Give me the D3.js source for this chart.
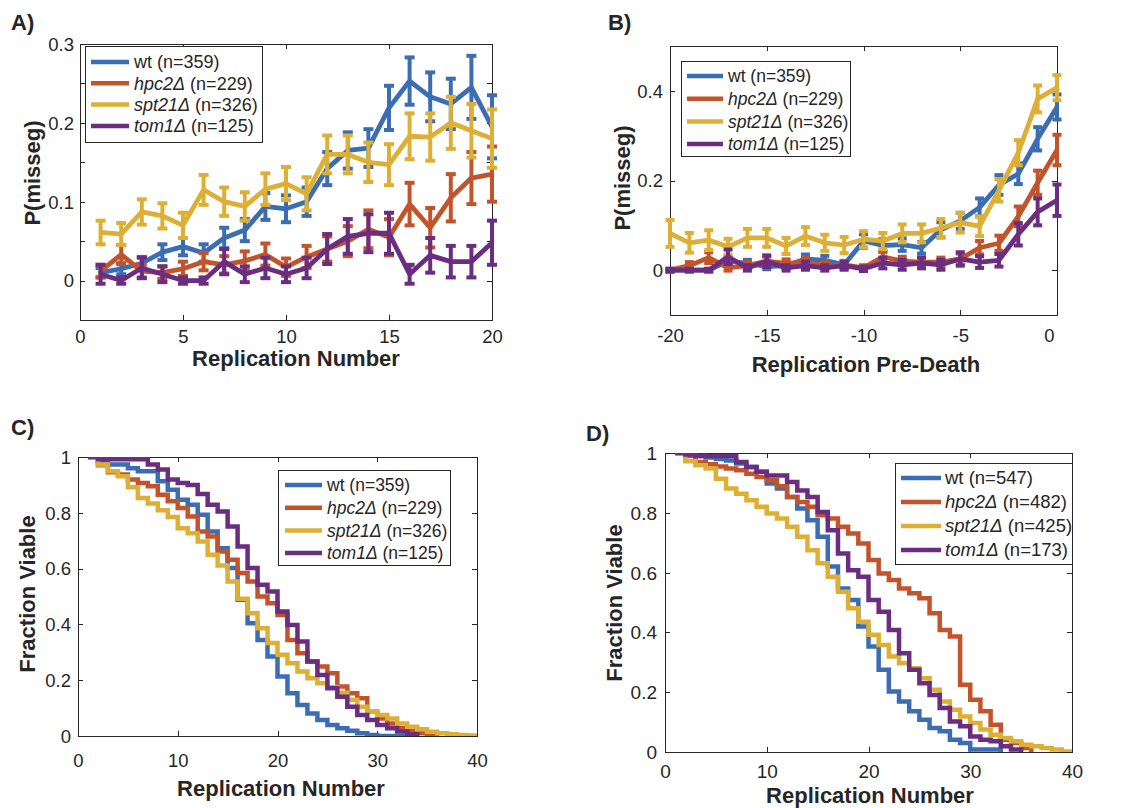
<!DOCTYPE html>
<html>
<head>
<meta charset="utf-8">
<script src="https://cdn.jsdelivr.net/npm/d3@7"></script>
<style>
  body { margin: 0; background: #fff; }
  svg text { font-family: "Liberation Sans", Arial, Helvetica, sans-serif; fill: #262626; }
</style>
</head>
<body>
<svg id="fig" width="1124" height="808"></svg>
<script>
// ---- strains ----
var strainNames = ["wt", "hpc2Δ", "spt21Δ", "tom1Δ"];
var strainItalic = [false, true, true, true];
var strainColors = ["#3b6db3", "#c3532b", "#ddb035", "#6b2d80"];
var nCellsABC = [359, 229, 326, 125];
var nCellsD = [547, 482, 425, 173];

// ---- panel A: P(misseg) by replication number ----
var replicationA = [1, 2, 3, 4, 5, 6, 7, 8, 9, 10, 11, 12, 13, 14, 15, 16, 17, 18, 19, 20];
var missegA_wt    = [0.010, 0.015, 0.022, 0.036, 0.043, 0.035, 0.054, 0.064, 0.094, 0.091, 0.100, 0.142, 0.165, 0.168, 0.219, 0.253, 0.233, 0.224, 0.245, 0.195];
var missegA_hpc2  = [0.012, 0.033, 0.012, 0.010, 0.015, 0.024, 0.020, 0.025, 0.033, 0.017, 0.030, 0.040, 0.050, 0.065, 0.055, 0.097, 0.067, 0.105, 0.130, 0.135];
var missegA_spt21 = [0.061, 0.059, 0.087, 0.082, 0.070, 0.115, 0.100, 0.094, 0.116, 0.123, 0.110, 0.160, 0.160, 0.150, 0.147, 0.183, 0.182, 0.200, 0.190, 0.180];
var missegA_tom1  = [0.008, 0.000, 0.016, 0.008, 0.000, 0.000, 0.024, 0.008, 0.016, 0.008, 0.016, 0.040, 0.056, 0.060, 0.060, 0.008, 0.032, 0.024, 0.024, 0.048];
var errA_wt    = [0.006, 0.007, 0.008, 0.010, 0.011, 0.011, 0.013, 0.014, 0.017, 0.017, 0.018, 0.021, 0.023, 0.024, 0.028, 0.030, 0.031, 0.032, 0.040, 0.040];
var errA_hpc2  = [0.008, 0.012, 0.008, 0.008, 0.009, 0.011, 0.011, 0.012, 0.014, 0.011, 0.014, 0.016, 0.019, 0.024, 0.023, 0.027, 0.025, 0.030, 0.033, 0.035];
var errA_spt21 = [0.015, 0.014, 0.016, 0.016, 0.016, 0.019, 0.018, 0.018, 0.020, 0.021, 0.021, 0.024, 0.024, 0.025, 0.026, 0.029, 0.030, 0.033, 0.034, 0.037];
var errA_tom1  = [0.012, 0.004, 0.013, 0.010, 0.004, 0.004, 0.016, 0.010, 0.013, 0.010, 0.013, 0.019, 0.022, 0.024, 0.026, 0.012, 0.022, 0.020, 0.020, 0.028];

// ---- panel B: P(misseg) by replications before death ----
var preDeathB = [-20, -19, -18, -17, -16, -15, -14, -13, -12, -11, -10, -9, -8, -7, -6, -5, -4, -3, -2, -1, 0];
var missegB_wt    = [0.000, 0.000, 0.000, 0.020, 0.015, 0.008, 0.010, 0.025, 0.022, 0.012, 0.065, 0.055, 0.057, 0.050, 0.090, 0.110, 0.140, 0.190, 0.215, 0.293, 0.364];
var missegB_hpc2  = [0.000, 0.010, 0.028, 0.005, 0.010, 0.020, 0.015, 0.018, 0.010, 0.012, 0.005, 0.030, 0.020, 0.018, 0.018, 0.025, 0.050, 0.060, 0.120, 0.195, 0.268];
var missegB_spt21 = [0.082, 0.061, 0.067, 0.052, 0.072, 0.072, 0.054, 0.076, 0.061, 0.056, 0.069, 0.065, 0.082, 0.082, 0.094, 0.106, 0.098, 0.178, 0.262, 0.382, 0.407];
var missegB_tom1  = [0.000, 0.000, 0.000, 0.030, 0.005, 0.020, 0.005, 0.010, 0.005, 0.010, 0.003, 0.016, 0.012, 0.016, 0.012, 0.025, 0.018, 0.022, 0.080, 0.130, 0.156];
var errB_wt    = [0.003, 0.003, 0.003, 0.010, 0.008, 0.006, 0.006, 0.010, 0.010, 0.007, 0.015, 0.014, 0.014, 0.013, 0.017, 0.018, 0.020, 0.022, 0.023, 0.026, 0.028];
var errB_hpc2  = [0.003, 0.008, 0.012, 0.006, 0.008, 0.010, 0.009, 0.010, 0.008, 0.008, 0.006, 0.012, 0.010, 0.010, 0.010, 0.012, 0.015, 0.017, 0.022, 0.027, 0.034];
var errB_spt21 = [0.030, 0.022, 0.022, 0.018, 0.020, 0.020, 0.018, 0.020, 0.018, 0.018, 0.018, 0.018, 0.020, 0.020, 0.020, 0.022, 0.022, 0.025, 0.028, 0.030, 0.028];
var errB_tom1  = [0.003, 0.003, 0.003, 0.016, 0.006, 0.013, 0.006, 0.009, 0.006, 0.009, 0.005, 0.012, 0.011, 0.012, 0.011, 0.015, 0.013, 0.014, 0.025, 0.030, 0.035];

// ---- panel C: fraction viable (values from replication 1 onward) ----
var survC_wt    = [1.0, 0.985, 0.973, 0.973, 0.96, 0.949, 0.949, 0.913, 0.883, 0.847, 0.829, 0.793, 0.733, 0.673, 0.602, 0.488, 0.404, 0.344, 0.285, 0.213, 0.153, 0.111, 0.081, 0.057, 0.039, 0.028, 0.019, 0.01, 0.004, 0, 0, 0, 0, 0];
var survC_hpc2  = [1.0, 0.97, 0.945, 0.937, 0.919, 0.907, 0.895, 0.865, 0.841, 0.817, 0.787, 0.733, 0.715, 0.661, 0.632, 0.584, 0.554, 0.5, 0.476, 0.434, 0.344, 0.297, 0.267, 0.249, 0.225, 0.177, 0.153, 0.135, 0.087, 0.063, 0.045, 0.028, 0.018, 0.01, 0.004, 0];
var survC_spt21 = [1.0, 0.973, 0.949, 0.931, 0.892, 0.853, 0.833, 0.809, 0.785, 0.745, 0.727, 0.697, 0.65, 0.611, 0.554, 0.492, 0.44, 0.386, 0.333, 0.291, 0.261, 0.231, 0.207, 0.189, 0.175, 0.155, 0.13, 0.105, 0.087, 0.075, 0.063, 0.045, 0.033, 0.024, 0.015, 0.01, 0.006, 0.004, 0.002, 0];
var survC_tom1  = [1.0, 0.992, 0.992, 0.992, 0.992, 0.992, 0.973, 0.955, 0.919, 0.907, 0.9, 0.867, 0.829, 0.805, 0.751, 0.679, 0.602, 0.542, 0.518, 0.446, 0.398, 0.339, 0.267, 0.219, 0.171, 0.141, 0.105, 0.075, 0.057, 0.039, 0.028, 0.016, 0.006, 0];

// ---- panel D: fraction viable, second data set ----
var survD_wt    = [1.0, 0.995, 0.99, 0.985, 0.98, 0.975, 0.965, 0.953, 0.937, 0.898, 0.881, 0.853, 0.814, 0.775, 0.72, 0.62, 0.547, 0.508, 0.42, 0.353, 0.275, 0.202, 0.169, 0.136, 0.108, 0.08, 0.069, 0.041, 0.03, 0.008, 0.008, 0.008, 0];
var survD_hpc2  = [1.0, 0.99, 0.97, 0.962, 0.955, 0.948, 0.942, 0.931, 0.92, 0.909, 0.889, 0.853, 0.836, 0.82, 0.792, 0.781, 0.753, 0.731, 0.697, 0.642, 0.597, 0.575, 0.547, 0.531, 0.514, 0.464, 0.408, 0.386, 0.225, 0.175, 0.136, 0.091, 0.041, 0.03, 0.013, 0];
var survD_spt21 = [1.0, 0.972, 0.959, 0.948, 0.914, 0.881, 0.864, 0.842, 0.82, 0.798, 0.781, 0.753, 0.72, 0.675, 0.631, 0.586, 0.536, 0.481, 0.436, 0.392, 0.358, 0.319, 0.297, 0.28, 0.247, 0.208, 0.169, 0.141, 0.119, 0.097, 0.075, 0.058, 0.047, 0.036, 0.024, 0.019, 0.013, 0.008, 0.002, 0];
var survD_tom1  = [1.0, 0.995, 0.99, 0.99, 0.99, 0.99, 0.97, 0.953, 0.937, 0.925, 0.925, 0.903, 0.875, 0.853, 0.803, 0.742, 0.664, 0.608, 0.586, 0.508, 0.469, 0.408, 0.33, 0.275, 0.23, 0.191, 0.147, 0.102, 0.086, 0.052, 0.041, 0.036, 0.019, 0.008, 0];

var svg = d3.select("#fig");
var axisColor = "#262626";

// sets up box, ticks and labels of one panel, returns the scales
function makeAxes(cfg) {
  var x = d3.scaleLinear().domain(cfg.xDomain).range([cfg.left, cfg.right]);
  var y = d3.scaleLinear().domain(cfg.yDomain).range([cfg.bottom, cfg.top]);
  var g = svg.append("g");

  var fmt = function(d) { return String(+d.toFixed(2)); };
  var yFmt = function(d) { return cfg.yLabelled.indexOf(+d.toFixed(2)) >= 0 ? fmt(d) : ""; };

  var bottom = g.append("g").attr("transform", "translate(0," + cfg.bottom + ")")
    .call(d3.axisBottom(x).tickValues(cfg.xTicks).tickSizeInner(-5).tickSizeOuter(0).tickFormat(fmt));
  bottom.selectAll(".tick text").attr("y", cfg.xTickY).attr("dy", 0)
    .attr("dx", function(d) { return d === cfg.xDomain[1] ? (cfg.lastTickDx || 0) : 0; });

  g.append("g").attr("transform", "translate(0," + cfg.top + ")")
    .call(d3.axisTop(x).tickValues(cfg.xTicks).tickSizeInner(-5).tickSizeOuter(0).tickFormat(""));

  var left = g.append("g").attr("transform", "translate(" + cfg.left + ",0)")
    .call(d3.axisLeft(y).tickValues(cfg.yTicks).tickSizeInner(-5).tickSizeOuter(0).tickFormat(yFmt));
  left.selectAll(".tick text").attr("x", -cfg.yTickGap).attr("dy", "0.34em");

  g.append("g").attr("transform", "translate(" + cfg.right + ",0)")
    .call(d3.axisRight(y).tickValues(cfg.yTicks).tickSizeInner(-5).tickSizeOuter(0).tickFormat(""));

  g.selectAll(".domain, .tick line").attr("stroke", axisColor).attr("stroke-width", 1)
    .attr("shape-rendering", "crispEdges");
  g.selectAll(".tick text").style("font-size", cfg.tickFont + "px").attr("fill", axisColor);

  g.append("text").attr("x", cfg.xLabel[0]).attr("y", cfg.xLabel[1])
    .attr("text-anchor", "middle").style("font-size", cfg.labelFont + "px").style("font-weight", "bold")
    .text(cfg.xTitle);
  g.append("text").attr("transform", "translate(" + cfg.yLabel[0] + "," + cfg.yLabel[1] + ") rotate(-90)")
    .attr("text-anchor", "middle").style("font-size", cfg.labelFont + "px").style("font-weight", "bold")
    .text(cfg.yTitle);
  svg.append("text").attr("x", cfg.letter[0]).attr("y", cfg.letter[1])
    .style("font-size", "22px").style("font-weight", "bold").text(cfg.letterText);

  return { x: x, y: y, g: g };
}

function drawLegend(cfg, counts) {
  var lg = svg.append("g");
  lg.append("rect").attr("x", cfg.box[0]).attr("y", cfg.box[1])
    .attr("width", cfg.box[2] - cfg.box[0]).attr("height", cfg.box[3] - cfg.box[1])
    .attr("fill", "#fff").attr("stroke", axisColor).attr("stroke-width", 1)
    .attr("shape-rendering", "crispEdges");
  var rows = lg.selectAll("g.row").data(strainNames).enter().append("g").attr("class", "row")
    .attr("transform", function(d, i) { return "translate(0," + (cfg.rowY0 + i * cfg.rowStep) + ")"; });
  rows.append("line").attr("x1", cfg.lineX[0]).attr("x2", cfg.lineX[1])
    .attr("stroke", function(d, i) { return strainColors[i]; }).attr("stroke-width", 4.5);
  var t = rows.append("text").attr("x", cfg.textX).attr("dy", "0.35em").style("font-size", cfg.font + "px");
  t.append("tspan").style("font-style", function(d, i) { return strainItalic[i] ? "italic" : "normal"; })
    .text(function(d) { return d; });
  t.append("tspan").text(function(d, i) { return " (n=" + counts[i] + ")"; });
}

function drawErrorSeries(ax, xs, seriesVals, seriesErr, capHalf) {
  seriesVals.forEach(function(vals, s) {
    var pts = xs.map(function(xv, i) { return { x: xv, v: vals[i], e: seriesErr[s][i] }; });
    var sg = ax.g.append("g");
    var col = strainColors[s];
    sg.selectAll("line.bar").data(pts).enter().append("line").attr("class", "bar")
      .attr("x1", function(d) { return ax.x(d.x); }).attr("x2", function(d) { return ax.x(d.x); })
      .attr("y1", function(d) { return ax.y(d.v - d.e); }).attr("y2", function(d) { return ax.y(d.v + d.e); })
      .attr("stroke", col).attr("stroke-width", 4);
    [-1, 1].forEach(function(sign) {
      sg.selectAll("line.cap" + sign).data(pts).enter().append("line")
        .attr("x1", function(d) { return ax.x(d.x) - capHalf; }).attr("x2", function(d) { return ax.x(d.x) + capHalf; })
        .attr("y1", function(d) { return ax.y(d.v + sign * d.e); }).attr("y2", function(d) { return ax.y(d.v + sign * d.e); })
        .attr("stroke", col).attr("stroke-width", 4);
    });
    sg.append("path").datum(pts)
      .attr("d", d3.line().x(function(d) { return ax.x(d.x); }).y(function(d) { return ax.y(d.v); }))
      .attr("fill", "none").attr("stroke", col).attr("stroke-width", 4.8).attr("stroke-linejoin", "round");
  });
}

function drawStairs(ax, series, clipId) {
  svg.append("clipPath").attr("id", clipId).append("rect")
    .attr("x", ax.x.range()[0]).attr("y", ax.y.range()[1])
    .attr("width", ax.x.range()[1] - ax.x.range()[0]).attr("height", ax.y.range()[0] - ax.y.range()[1]);
  var sg = ax.g.append("g").attr("clip-path", "url(#" + clipId + ")");
  series.forEach(function(vals, s) {
    var pts = vals.map(function(v, i) { return { x: i + 1, v: v }; });
    sg.append("path").datum(pts)
      .attr("d", d3.line().curve(d3.curveStepAfter).x(function(d) { return ax.x(d.x); }).y(function(d) { return ax.y(d.v); }))
      .attr("fill", "none").attr("stroke", strainColors[s]).attr("stroke-width", 4.5);
  });
}

// ---- A ----
var axA = makeAxes({
  left: 80, right: 492, top: 44, bottom: 320,
  xDomain: [0, 20], yDomain: [-0.05, 0.3],
  xTicks: [0, 5, 10, 15, 20], yTicks: [0, 0.05, 0.1, 0.15, 0.2, 0.25, 0.3], yLabelled: [0, 0.1, 0.2, 0.3],
  xTickY: 23, yTickGap: 6, tickFont: 18.5, labelFont: 22,
  xTitle: "Replication Number", xLabel: [296, 366],
  yTitle: "P(misseg)", yLabel: [40, 173],
  letter: [11, 30], letterText: "A)"
});
drawErrorSeries(axA, replicationA,
  [missegA_wt, missegA_hpc2, missegA_spt21, missegA_tom1],
  [errA_wt, errA_hpc2, errA_spt21, errA_tom1], 5);
drawLegend({ box: [85, 46, 262, 142], rowY0: 62, rowStep: 21.3, lineX: [91, 129], textX: 134, font: 18 }, nCellsABC);

// ---- B ----
var axB = makeAxes({
  left: 670, right: 1057, top: 46, bottom: 315,
  xDomain: [-20, 0], yDomain: [-0.1, 0.5],
  xTicks: [-20, -15, -10, -5, 0], yTicks: [0, 0.2, 0.4], yLabelled: [0, 0.2, 0.4],
  xTickY: 27, yTickGap: 7, tickFont: 18.5, labelFont: 22, lastTickDx: -8,
  xTitle: "Replication Pre-Death", xLabel: [866, 372],
  yTitle: "P(misseg)", yLabel: [630, 178],
  letter: [608, 30], letterText: "B)"
});
drawErrorSeries(axB, preDeathB,
  [missegB_wt, missegB_hpc2, missegB_spt21, missegB_tom1],
  [errB_wt, errB_hpc2, errB_spt21, errB_tom1], 4.5);
drawLegend({ box: [681, 61, 850, 156], rowY0: 76, rowStep: 22.7, lineX: [687, 723], textX: 728, font: 17.5 }, nCellsABC);

// ---- C ----
var axC = makeAxes({
  left: 78, right: 477, top: 457, bottom: 736,
  xDomain: [0, 40], yDomain: [0, 1],
  xTicks: [0, 10, 20, 30, 40], yTicks: [0, 0.2, 0.4, 0.6, 0.8, 1], yLabelled: [0, 0.2, 0.4, 0.6, 0.8, 1],
  xTickY: 31, yTickGap: 7, tickFont: 18.5, labelFont: 22,
  xTitle: "Replication Number", xLabel: [281, 796],
  yTitle: "Fraction Viable", yLabel: [35, 594],
  letter: [11, 435], letterText: "C)"
});
drawStairs(axC, [survC_wt, survC_hpc2, survC_spt21, survC_tom1], "clipC");
drawLegend({ box: [278, 470, 450, 565], rowY0: 485, rowStep: 22.7, lineX: [285, 322], textX: 327, font: 17.5 }, nCellsABC);

// ---- D ----
var axD = makeAxes({
  left: 665, right: 1072, top: 453, bottom: 752,
  xDomain: [0, 40], yDomain: [0, 1],
  xTicks: [0, 10, 20, 30, 40], yTicks: [0, 0.2, 0.4, 0.6, 0.8, 1], yLabelled: [0, 0.2, 0.4, 0.6, 0.8, 1],
  xTickY: 26, yTickGap: 8, tickFont: 19, labelFont: 22,
  xTitle: "Replication Number", xLabel: [870, 803],
  yTitle: "Fraction Viable", yLabel: [622, 603],
  letter: [586, 441], letterText: "D)"
});
drawStairs(axD, [survD_wt, survD_hpc2, survD_spt21, survD_tom1], "clipD");
drawLegend({ box: [895, 463, 1072, 564], rowY0: 478, rowStep: 24, lineX: [901, 941], textX: 945, font: 18.5 }, nCellsD);
</script>
</body>
</html>
